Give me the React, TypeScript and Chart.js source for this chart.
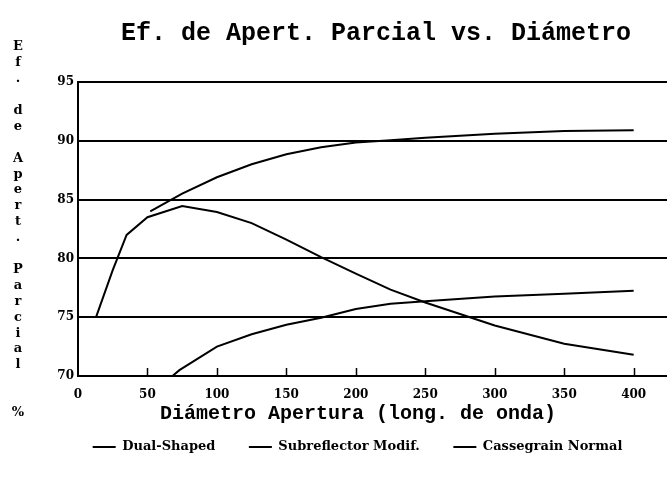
import React, { useEffect, useRef } from "react";
import { Chart, registerables } from "chart.js";

Chart.register(...registerables);

const chartTitle = "Ef. de Apert. Parcial vs. Diámetro";
const xAxisTitle = "Diámetro Apertura (long. de onda)";
const yAxisTitle = "Ef. de Apert. Parcial  %";
const seriesNames = ["Dual-Shaped", "Subreflector Modif.", "Cassegrain Normal"];

const dualX = [52, 75, 100, 125, 150, 175, 200, 225, 250, 300, 350, 400];
const dualY = [84, 85.5, 86.9, 88.0, 88.85, 89.45, 89.85, 90.05, 90.25, 90.6, 90.83, 90.9];

const subX = [13, 25, 35, 50, 75, 100, 125, 150, 175, 200, 225, 250, 300, 350, 400];
const subY = [75, 79, 82, 83.5, 84.45, 83.95, 83.0, 81.6, 80.1, 78.7, 77.35, 76.25, 74.3, 72.75, 71.8];

const casX = [68, 73, 100, 125, 150, 175, 200, 225, 250, 300, 350, 400];
const casY = [70, 70.5, 72.5, 73.55, 74.35, 74.95, 75.7, 76.15, 76.35, 76.75, 77.0, 77.25];

const xTickValues = [0, 50, 100, 150, 200, 250, 300, 350, 400];
const yTickValues = [70, 75, 80, 85, 90, 95];

const toPoints = (xs: number[], ys: number[]) => xs.map((x, i) => ({ x, y: ys[i] }));

const SERIF = "'DejaVu Serif', serif";
const MONO = "'Liberation Mono', 'Courier New', monospace";

const textPlugin = {
  id: "textPlugin",
  afterDraw(chart: any) {
    const ctx = chart.ctx;
    const area = chart.chartArea;
    const xs = chart.scales.x;
    ctx.save();
    // upward tick marks on x axis
    ctx.strokeStyle = "#000";
    ctx.lineWidth = 1.5;
    xTickValues.forEach((v) => {
      if (v === 0) return;
      const px = Math.round(xs.getPixelForValue(v)) + 0.5;
      ctx.beginPath();
      ctx.moveTo(px, area.bottom);
      ctx.lineTo(px, area.bottom - 8);
      ctx.stroke();
    });
    ctx.fillStyle = "#000";
    ctx.textAlign = "center";
    ctx.textBaseline = "middle";
    // main title
    ctx.font = `bold 25px ${MONO}`;
    ctx.fillText(chartTitle, 376, 34);
    // x axis title
    ctx.font = `bold 20px ${MONO}`;
    ctx.fillText(xAxisTitle, 358, 414);
    // y axis title, stacked letters
    ctx.font = `bold 13px ${SERIF}`;
    const chars = Array.from(yAxisTitle);
    let y = 47;
    const step = 15.9;
    chars.forEach((c) => {
      if (c !== " ") ctx.fillText(c, 18, y);
      y += step;
    });
    ctx.restore();
  },
};

export default function App() {
  const canvasRef = useRef<HTMLCanvasElement | null>(null);

  useEffect(() => {
    if (!canvasRef.current) return;
    const mk = (label: string, xs: number[], ys: number[]) => ({
      label,
      data: toPoints(xs, ys),
      borderColor: "#000",
      backgroundColor: "#000",
      borderWidth: 2,
      pointRadius: 0,
      tension: 0,
      fill: false,
    });
    const chart = new Chart(canvasRef.current, {
      type: "line",
      data: {
        datasets: [
          mk(seriesNames[0], dualX, dualY),
          mk(seriesNames[1], subX, subY),
          mk(seriesNames[2], casX, casY),
        ],
      },
      options: {
        animation: false,
        responsive: true,
        maintainAspectRatio: false,
        layout: { padding: { left: 48, right: 0, top: 82, bottom: 13.5 } },
        plugins: {
          title: { display: false },
          tooltip: { enabled: false },
          legend: {
            display: true,
            position: "bottom",
            fullSize: true,
            labels: {
              usePointStyle: true,
              pointStyle: "line",
              pointStyleWidth: 23,
              color: "#000",
              padding: 33.5,
              font: { family: SERIF, size: 13, weight: "bold" },
            },
          },
        },
        scales: {
          x: {
            type: "linear",
            min: 0,
            max: 424,
            afterBuildTicks: (scale: any) => {
              scale.ticks = xTickValues.map((v) => ({ value: v }));
            },
            afterFit: (scale: any) => {
              scale.height = 31;
            },
            grid: { display: false, drawTicks: false },
            border: { display: true, color: "#000", width: 2 },
            ticks: {
              color: "#000",
              padding: 12,
              maxRotation: 0,
              font: { family: SERIF, size: 12, weight: "bold" },
            },
          },
          y: {
            type: "linear",
            min: 70,
            max: 95,
            afterBuildTicks: (scale: any) => {
              scale.ticks = yTickValues.map((v) => ({ value: v }));
            },
            afterFit: (scale: any) => {
              scale.width = 30;
            },
            grid: { display: true, color: "#000", lineWidth: 2, drawTicks: false },
            border: { display: true, color: "#000", width: 2 },
            ticks: {
              color: "#000",
              padding: 4,
              font: { family: SERIF, size: 12, weight: "bold" },
            },
          },
        },
      },
      plugins: [textPlugin],
    });
    return () => chart.destroy();
  }, []);

  return (
    <div style={{ position: "absolute", left: 0, top: 0, width: 667, height: 477, background: "#fff" }}>
      <canvas ref={canvasRef} />
    </div>
  );
}
